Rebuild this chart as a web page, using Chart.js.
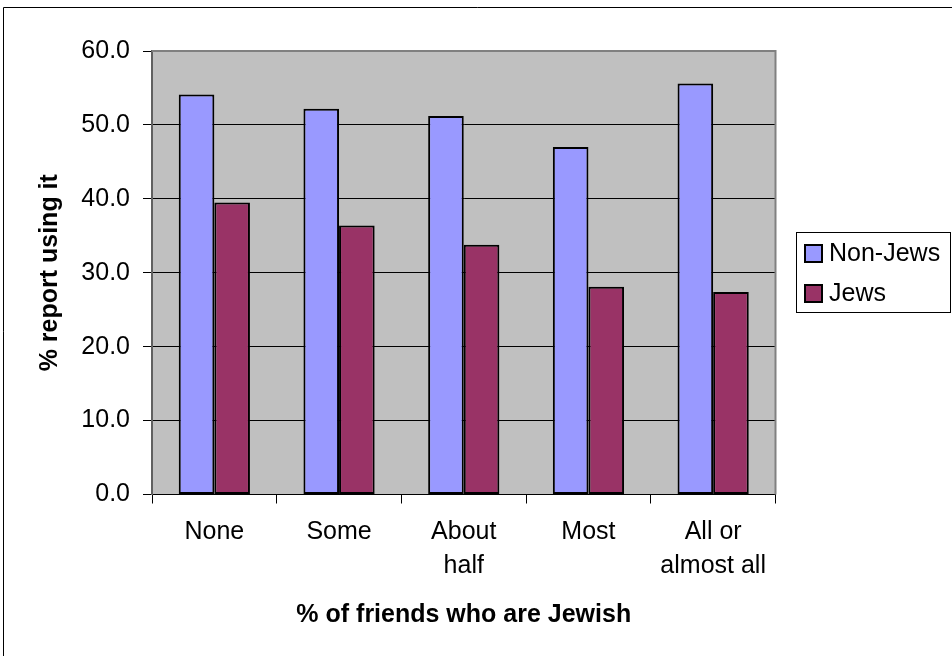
<!DOCTYPE html>
<html>
<head>
<meta charset="utf-8">
<script src="https://cdn.jsdelivr.net/npm/chart.js@4"></script>
<style>
  body { margin: 0; background: #fff; }
  canvas { display: block; }
</style>
</head>
<body>
<canvas id="myChart" width="952" height="656"></canvas>
<script>
const categories = ['None', 'Some', ['About', 'half'], 'Most', ['All or', 'almost all']];
const seriesNames = ['Non-Jews', 'Jews'];
const nonJews = [54.1, 52.2, 51.2, 47.0, 55.6];
const jews = [39.5, 36.4, 33.8, 28.1, 27.4];
const yMin = 0;
const yMax = 60;
const yStep = 10;

const FONT = "'Liberation Sans', Arial, sans-serif";

// grey plot area, outer frame and the boxed legend drawn by hand
const excelLook = {
    id: 'excelLook',
    beforeDraw(chart) {
        const ctx = chart.ctx;
        const a = chart.chartArea;
        ctx.save();
        ctx.fillStyle = '#fff';
        ctx.fillRect(0, 0, chart.width, chart.height);
        ctx.strokeStyle = '#000';
        ctx.lineWidth = 1;
        ctx.beginPath();
        ctx.moveTo(3.5, chart.height);
        ctx.lineTo(3.5, 7.5);
        ctx.lineTo(chart.width, 7.5);
        ctx.stroke();
        ctx.fillStyle = '#C0C0C0';
        ctx.fillRect(a.left, a.top, a.right - a.left, a.bottom - a.top);
        ctx.restore();
    },
    afterDraw(chart) {
        const ctx = chart.ctx;
        const a = chart.chartArea;
        ctx.save();
        // plot border, top and right
        ctx.strokeStyle = '#808080';
        ctx.lineWidth = 2;
        ctx.beginPath();
        ctx.moveTo(a.left, a.top);
        ctx.lineTo(a.right, a.top);
        ctx.lineTo(a.right, a.bottom);
        ctx.stroke();

        // legend
        ctx.strokeStyle = '#000';
        ctx.lineWidth = 1;
        ctx.strokeRect(796.5, 232.5, 154, 80);
        ctx.font = '25px ' + FONT;
        ctx.textBaseline = 'middle';
        ctx.textAlign = 'left';
        chart.data.datasets.forEach((ds, i) => {
            const y = 244 + i * 40;
            ctx.fillStyle = ds.backgroundColor;
            ctx.fillRect(805, y + 1, 17, 17);
            ctx.lineWidth = 2;
            ctx.strokeStyle = '#000';
            ctx.strokeRect(805, y + 1, 17, 17);
            ctx.fillStyle = '#000';
            ctx.fillText(ds.label, 829, y + 10);
        });
        ctx.restore();
    }
};

const ctx = document.getElementById('myChart').getContext('2d');
const chart = new Chart(ctx, {
    type: 'bar',
    data: {
        labels: categories,
        datasets: [{
            label: seriesNames[0],
            data: nonJews,
            backgroundColor: '#9999FF',
            borderColor: '#000',
            borderWidth: 2,
            borderSkipped: false,
            categoryPercentage: 0.571,
            barPercentage: 1.0
        }, {
            label: seriesNames[1],
            data: jews,
            backgroundColor: '#993366',
            borderColor: '#000',
            borderWidth: 2,
            borderSkipped: false,
            categoryPercentage: 0.571,
            barPercentage: 1.0
        }]
    },
    options: {
        responsive: false,
        animation: false,
        layout: {
            padding: { top: 51, right: 176.5, left: 0, bottom: 0 }
        },
        plugins: {
            legend: { display: false },
            tooltip: { enabled: false }
        },
        scales: {
            x: {
                afterFit: (scale) => { scale.height = 161.5; },
                grid: {
                    drawOnChartArea: false,
                    color: '#000',
                    tickLength: 9
                },
                border: { color: '#000', width: 1 },
                ticks: {
                    color: '#000',
                    padding: 12,
                    maxRotation: 0,
                    font: { family: FONT, size: 25, lineHeight: '34px' }
                },
                title: {
                    display: true,
                    text: '% of friends who are Jewish',
                    color: '#000',
                    font: { family: FONT, size: 25, weight: 'bold' },
                    padding: { top: 0, bottom: 26 }
                }
            },
            y: {
                min: yMin,
                max: yMax,
                afterFit: (scale) => { scale.width = 152; },
                grid: {
                    color: '#000',
                    lineWidth: 1,
                    tickLength: 9
                },
                border: { color: '#606060', width: 2 },
                ticks: {
                    stepSize: yStep,
                    color: '#000',
                    padding: 13,
                    font: { family: FONT, size: 25 },
                    callback: (v) => v.toFixed(1)
                },
                title: {
                    display: true,
                    text: '% report using it',
                    color: '#000',
                    font: { family: FONT, size: 25, weight: 'bold' },
                    padding: { top: 35, bottom: 0 }
                }
            }
        }
    },
    plugins: [excelLook]
});
</script>
</body>
</html>
